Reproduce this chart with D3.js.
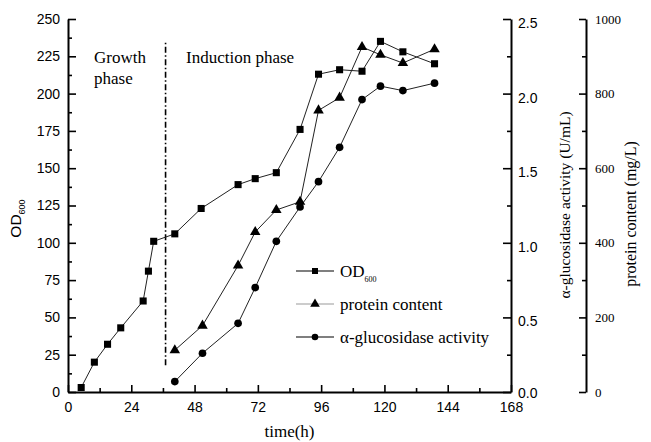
<!DOCTYPE html>
<html>
<head>
<meta charset="utf-8">
<script src="https://cdn.jsdelivr.net/npm/d3@7"></script>
<style>
  html, body { margin: 0; padding: 0; background: #fff; }
  svg { display: block; }
</style>
</head>
<body>
<svg id="chart" width="651" height="442"></svg>
<script>
// Fermentation time course: biomass (OD600), protein content and α-glucosidase activity
const odHours = [5, 10, 15, 20, 28.5, 30.5, 32.5, 40.5, 50.5, 64.5, 71, 79, 88, 95, 103, 111.5, 118.5, 127, 139];
const odValues = [3, 20, 32, 43, 61, 81, 101, 106, 123, 139, 143, 147, 176, 213, 216, 215, 235, 228, 220];

const inductionHours = [40.5, 51, 64.5, 71, 79, 88, 95, 103, 111.5, 118.5, 127, 139];
const proteinValues = [112, 178, 339, 429, 488, 510, 755, 789, 925, 904, 882, 919];
const activityValues = [0.07, 0.26, 0.46, 0.70, 1.01, 1.24, 1.41, 1.64, 1.96, 2.05, 2.02, 2.07];

const xTicks = [0, 24, 48, 72, 96, 120, 144, 168];
const odTicks = [0, 25, 50, 75, 100, 125, 150, 175, 200, 225, 250];
const activityTicks = [0.0, 0.5, 1.0, 1.5, 2.0, 2.5];
const proteinTicks = [0, 200, 400, 600, 800, 1000];

const phaseBoundary = 37;      // hour at which induction starts
const boundarySpan = [18, 235]; // extent of the separator, in OD units

const legendItems = ["OD", "protein content", "α-glucosidase activity"];

const SANS = "'Liberation Sans', Arial, sans-serif";
const SERIF = "'Liberation Serif', 'Times New Roman', serif";

const svg = d3.select("#chart");
const plotLeft = 68, plotRight = 511, plotTop = 19, plotBottom = 392;
const axis2X = 586;

const x = d3.scaleLinear().domain([0, 168]).range([plotLeft, plotRight]);
const yOD = d3.scaleLinear().domain([0, 250]).range([plotBottom, plotTop]);
const yAct = d3.scaleLinear().domain([0, 2.5]).range([plotBottom, plotTop]);
const yProt = d3.scaleLinear().domain([0, 1000]).range([plotBottom, plotTop]);

function midpoints(ticks) {
  const out = [];
  for (let i = 0; i < ticks.length - 1; i++) out.push((ticks[i] + ticks[i + 1]) / 2);
  return out;
}

function styleAxis(g) {
  g.selectAll("path.domain").attr("stroke", "#000").attr("stroke-width", 2);
  g.selectAll(".tick line").attr("stroke", "#000").attr("stroke-width", 1.6);
}

// Minor ticks
svg.append("g").attr("transform", `translate(${plotLeft},0)`)
  .call(d3.axisLeft(yOD).tickValues(midpoints(odTicks)).tickSize(-4).tickFormat(""))
  .call(g => g.select(".domain").remove()).call(styleAxis);
svg.append("g").attr("transform", `translate(0,${plotBottom})`)
  .call(d3.axisBottom(x).tickValues(midpoints(xTicks)).tickSize(-4).tickFormat(""))
  .call(g => g.select(".domain").remove()).call(styleAxis);
svg.append("g").attr("transform", `translate(${plotRight},0)`)
  .call(d3.axisRight(yAct).tickValues(midpoints(activityTicks)).tickSize(-4).tickFormat(""))
  .call(g => g.select(".domain").remove()).call(styleAxis);
svg.append("g").attr("transform", `translate(${axis2X},0)`)
  .call(d3.axisRight(yProt).tickValues(midpoints(proteinTicks)).tickSize(-4).tickFormat(""))
  .call(g => g.select(".domain").remove()).call(styleAxis);

// Major axes
const gLeft = svg.append("g").attr("transform", `translate(${plotLeft},0)`)
  .call(d3.axisLeft(yOD).tickValues(odTicks).tickSize(-8).tickSizeOuter(0).tickPadding(8).tickFormat(d3.format("d")))
  .call(styleAxis);
gLeft.selectAll("text").attr("font-family", SANS).attr("font-size", 14).attr("fill", "#000");

const gBottom = svg.append("g").attr("transform", `translate(0,${plotBottom})`)
  .call(d3.axisBottom(x).tickValues(xTicks).tickSize(-7).tickSizeOuter(0).tickPadding(10).tickFormat(d3.format("d")))
  .call(styleAxis);
gBottom.selectAll("text").attr("font-family", SANS).attr("font-size", 14).attr("fill", "#000");

const gAct = svg.append("g").attr("transform", `translate(${plotRight},0)`)
  .call(d3.axisRight(yAct).tickValues(activityTicks).tickSize(-8).tickSizeOuter(0).tickPadding(7).tickFormat(d3.format(".1f")))
  .call(styleAxis);
gAct.selectAll("text").attr("font-family", SANS).attr("font-size", 14).attr("fill", "#000")
  .attr("dy", d => d === 0 ? "0.42em" : "0.6em");

const gProt = svg.append("g").attr("transform", `translate(${axis2X},0)`)
  .call(d3.axisRight(yProt).tickValues(proteinTicks).tickSize(-7).tickSizeOuter(0).tickPadding(9).tickFormat(d3.format("d")))
  .call(styleAxis);
gProt.selectAll("text").attr("font-family", SERIF).attr("font-size", 13).attr("fill", "#000");

// Axis titles
svg.append("text")
  .attr("transform", `translate(21,${(plotTop + plotBottom) / 2 + 13}) rotate(-90)`)
  .attr("text-anchor", "middle").attr("font-family", SANS).attr("font-size", 15.5)
  .call(t => {
    t.append("tspan").text("OD");
    t.append("tspan").attr("font-size", 9).attr("dy", 4).text("600");
  });

svg.append("text")
  .attr("x", (plotLeft + plotRight) / 2).attr("y", 437)
  .attr("text-anchor", "middle").attr("font-family", SERIF).attr("font-size", 17)
  .text("time(h)");

svg.append("text")
  .attr("transform", `translate(570,205) rotate(-90)`)
  .attr("text-anchor", "middle").attr("font-family", SERIF).attr("font-size", 15.5)
  .text("α-glucosidase activity (U/mL)");

svg.append("text")
  .attr("transform", `translate(636,214) rotate(-90)`)
  .attr("text-anchor", "middle").attr("font-family", SERIF).attr("font-size", 16)
  .text("protein content (mg/L)");

// Phase separator and labels
svg.append("line")
  .attr("x1", x(phaseBoundary)).attr("x2", x(phaseBoundary))
  .attr("y1", yOD(boundarySpan[0])).attr("y2", yOD(boundarySpan[1]))
  .attr("stroke", "#000").attr("stroke-width", 1.6)
  .attr("stroke-dasharray", "6,2.5,1.5,2.5");

svg.append("text").attr("x", 94).attr("y", 63)
  .attr("font-family", SERIF).attr("font-size", 17).text("Growth");
svg.append("text").attr("x", 94).attr("y", 84)
  .attr("font-family", SERIF).attr("font-size", 17).text("phase");
svg.append("text").attr("x", 186).attr("y", 63)
  .attr("font-family", SERIF).attr("font-size", 17).text("Induction phase");

// Series
const seriesLine = (xs, ys, yScale) =>
  d3.line().x((d, i) => x(xs[i])).y(d => yScale(d))(ys);

const lineColor = "#222";

svg.append("path").attr("d", seriesLine(odHours, odValues, yOD))
  .attr("fill", "none").attr("stroke", lineColor).attr("stroke-width", 1);
svg.append("path").attr("d", seriesLine(inductionHours, proteinValues, yProt))
  .attr("fill", "none").attr("stroke", lineColor).attr("stroke-width", 1);
svg.append("path").attr("d", seriesLine(inductionHours, activityValues, yAct))
  .attr("fill", "none").attr("stroke", lineColor).attr("stroke-width", 1);

const squareSym = d3.symbol().type(d3.symbolSquare).size(50);
const triSym = d3.symbol().type(d3.symbolTriangle).size(48);
const circSym = d3.symbol().type(d3.symbolCircle).size(46);

svg.append("g").selectAll("path").data(odValues).join("path")
  .attr("d", squareSym)
  .attr("transform", (d, i) => `translate(${x(odHours[i])},${yOD(d)})`)
  .attr("fill", "#000");

svg.append("g").selectAll("path").data(proteinValues).join("path")
  .attr("d", triSym)
  .attr("transform", (d, i) => `translate(${x(inductionHours[i])},${yProt(d)})`)
  .attr("fill", "#000");

svg.append("g").selectAll("path").data(activityValues).join("path")
  .attr("d", circSym)
  .attr("transform", (d, i) => `translate(${x(inductionHours[i])},${yAct(d)})`)
  .attr("fill", "#000");

// Legend
const legendX0 = 296, legendX1 = 334, legendMark = 315, legendText = 340;
const legendRows = [271, 304, 337];
const legendLineColors = ["#000", "#999", "#000"];
const legendSymbols = [
  d3.symbol().type(d3.symbolSquare).size(36),
  d3.symbol().type(d3.symbolTriangle).size(40),
  d3.symbol().type(d3.symbolCircle).size(34)
];

legendItems.forEach((label, i) => {
  const g = svg.append("g").attr("transform", `translate(0,${legendRows[i]})`);
  g.append("line").attr("x1", legendX0).attr("x2", legendX1)
    .attr("stroke", legendLineColors[i]).attr("stroke-width", 1.2);
  g.append("path").attr("d", legendSymbols[i])
    .attr("transform", `translate(${legendMark},0)`).attr("fill", "#000");
  const t = g.append("text").attr("x", legendText).attr("y", 6)
    .attr("font-family", SERIF).attr("font-size", 17);
  t.append("tspan").text(label);
  if (i === 0) t.append("tspan").attr("font-size", 8).attr("dy", 5).text("600");
});
</script>
</body>
</html>
